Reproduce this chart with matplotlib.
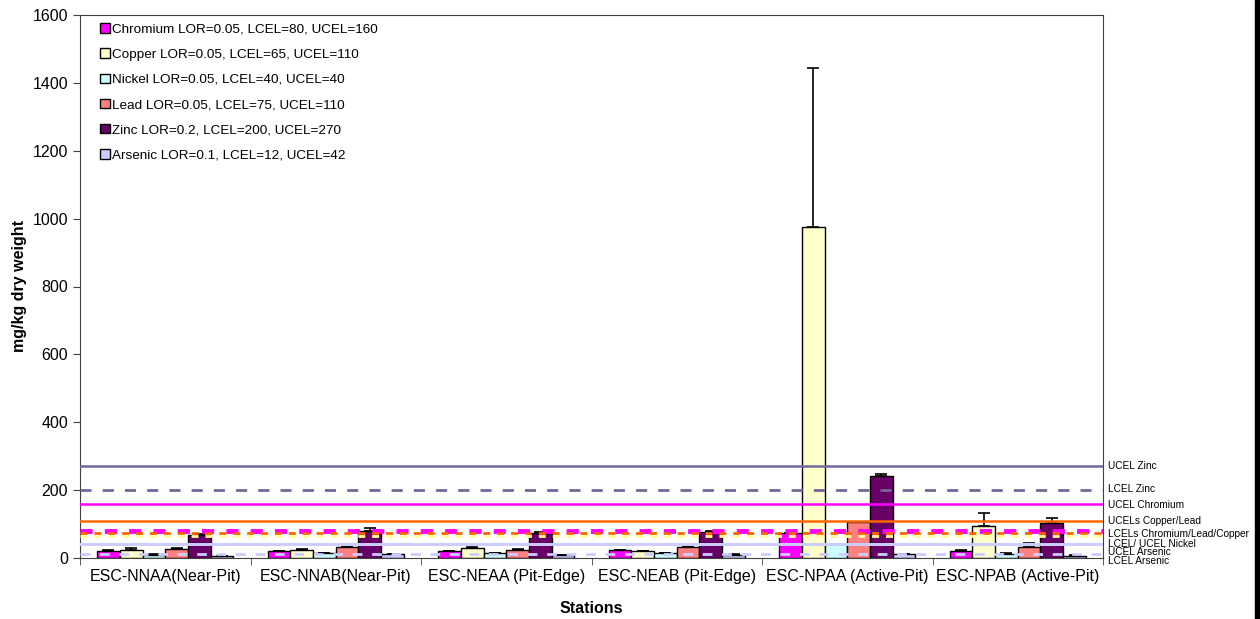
import matplotlib.pyplot as plt
import numpy as np
from matplotlib.patches import Patch, Rectangle

plt.rcParams['font.family'] = ['Liberation Sans', 'DejaVu Sans']

stations = ['ESC-NNAA(Near-Pit)', 'ESC-NNAB(Near-Pit)', 'ESC-NEAA (Pit-Edge)',
            'ESC-NEAB (Pit-Edge)', 'ESC-NPAA (Active-Pit)', 'ESC-NPAB (Active-Pit)']

metals = ['Chromium LOR=0.05, LCEL=80, UCEL=160',
          'Copper LOR=0.05, LCEL=65, UCEL=110',
          'Nickel LOR=0.05, LCEL=40, UCEL=40',
          'Lead LOR=0.05, LCEL=75, UCEL=110',
          'Zinc LOR=0.2, LCEL=200, UCEL=270',
          'Arsenic LOR=0.1, LCEL=12, UCEL=42']
colors = ['#FF00FF', '#FFFFCC', '#CCFFFF', '#FF8080', '#660066', '#CCCCFF']

# mean concentrations per station
chromium = [21, 20, 21, 23, 75, 22]
copper = [25, 25, 28, 21, 975, 94]
nickel = [10, 15, 14, 15, 40, 12]
lead = [27, 31, 25, 31, 105, 33]
zinc = [68, 81, 73, 77, 242, 103]
arsenic = [6, 11, 8, 10, 11, 7]

# upper error bars
chromium_err = [2, 2, 1, 1, 0, 3]
copper_err = [3, 1, 3, 1, 470, 40]
nickel_err = [1, 1, 1, 1, 0, 2]
lead_err = [2, 1, 2, 1, 0, 10]
zinc_err = [3, 8, 5, 3, 5, 15]
arsenic_err = [1, 1, 1, 1, 1, 1]

values = [chromium, copper, nickel, lead, zinc, arsenic]
errors = [chromium_err, copper_err, nickel_err, lead_err, zinc_err, arsenic_err]

# guideline values: (value, colour, linestyle, width)
guidelines = [
    (270, '#75679A', '-', 1.8),
    (200, '#75679A', (0, (4, 4)), 2.0),
    (160, '#FF00FF', '-', 1.8),
    (110, '#FF6600', '-', 1.8),
    (80, '#FF00FF', (0, (2.5, 2.5)), 3.5),
    (75, '#FF6600', (0, (2.5, 2.5)), 2.0),
    (65, '#FFFF99', (0, (2.5, 2.5)), 2.0),
    (42, '#CCCCFF', '-', 2.0),
    (40, '#CCCCFF', '-', 2.0),
    (12, '#CCCCFF', (0, (3.5, 3.5)), 2.0),
]
guide_labels = ['UCEL Zinc', 'LCEL Zinc', 'UCEL Chromium', 'UCELs Copper/Lead',
                'LCELs Chromium/Lead/Copper', 'LCEL/ UCEL Nickel',
                'UCEL Arsenic', 'LCEL Arsenic']
guide_label_pos = [272, 204, 157, 110, 71, 41, 18, -9]

fig = plt.figure(figsize=(12.6, 6.19), dpi=100)
ax = fig.add_axes([80 / 1260, 1 - 558 / 619, (1103 - 80) / 1260, (558 - 15) / 619])

n = len(metals)
width = 0.8 / n
x = np.arange(len(stations))
for i, (vals, errs, col) in enumerate(zip(values, errors, colors)):
    pos = x - 0.4 + width * (i + 0.5)
    ax.bar(pos, vals, width, color=col, edgecolor='black', linewidth=1.0, zorder=2)
    ax.errorbar(pos, vals, yerr=[np.zeros(len(errs)), errs], fmt='none',
                ecolor='black', elinewidth=1.2, capsize=4, capthick=1.2, zorder=3)

for val, col, ls, lw in guidelines:
    ax.axhline(val, color=col, linestyle=ls, linewidth=lw, zorder=4)

for lab, pos in zip(guide_labels, guide_label_pos):
    ax.text(1.005, pos, lab, transform=ax.get_yaxis_transform(), fontsize=7.3,
            va='center', ha='left', clip_on=False)

ax.set_xlim(-0.5, len(stations) - 0.5)
ax.set_ylim(0, 1600)
ax.set_yticks(np.arange(0, 1601, 200))
ax.set_xticks(x)
ax.set_xticklabels(stations, fontsize=11.5)
ax.set_xticks(np.arange(len(stations) + 1) - 0.5, minor=True)
ax.tick_params(axis='x', which='major', length=0, pad=8)
ax.tick_params(axis='x', which='minor', length=5, direction='out', color='#404040')
ax.tick_params(axis='y', labelsize=11.5, length=5, color='#404040')
for s in ax.spines.values():
    s.set_color('#404040')

ax.set_ylabel('mg/kg dry weight', fontsize=11.5, fontweight='bold', labelpad=4)
ax.set_xlabel('Stations', fontsize=11.5, fontweight='bold', labelpad=12)

handles = [Patch(facecolor=c, edgecolor='black', linewidth=1.0) for c in colors]
ax.legend(handles, metals, loc='upper left', frameon=False, fontsize=9.7,
          handlelength=0.7, handleheight=0.7, handletextpad=0.2,
          labelspacing=0.95, bbox_to_anchor=(0.012, 1.0), borderaxespad=0.2)

fig.patches.append(Rectangle((1255 / 1260, 0), 5 / 1260, 1, transform=fig.transFigure,
                             color='black', zorder=10))

fig.savefig('out.png', dpi=100)
